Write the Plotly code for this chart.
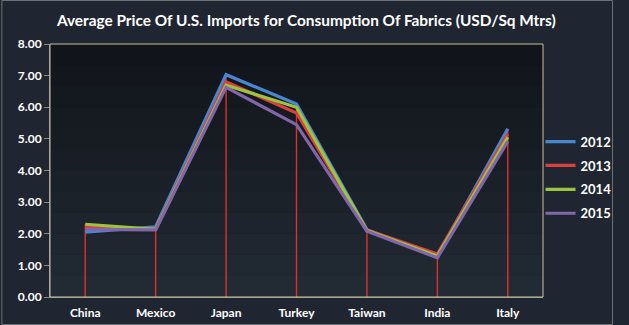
import plotly.graph_objects as go

countries = ["China", "Mexico", "Japan", "Turkey", "Taiwan", "India", "Italy"]
years = ["2012", "2013", "2014", "2015"]
price_2012 = [2.05, 2.22, 7.03, 6.10, 2.13, 1.30, 5.32]
price_2013 = [2.20, 2.15, 6.80, 5.82, 2.12, 1.36, 5.15]
price_2014 = [2.30, 2.14, 6.70, 6.00, 2.10, 1.30, 5.05]
price_2015 = [2.14, 2.12, 6.63, 5.45, 2.08, 1.24, 4.92]
y_ticks = [0, 1, 2, 3, 4, 5, 6, 7, 8]

series = [price_2012, price_2013, price_2014, price_2015]
colors = ["#4a86d0", "#d8413e", "#9cc53f", "#8366aa"]

W, H = 629, 325
ML, MR, MT, MB = 50, 72, 44, 28
PW, PH = W - ML - MR, H - MT - MB

fig = go.Figure()

# drop lines from the highest point of each category down to the axis
drop_x, drop_y = [], []
for i, c in enumerate(countries):
    top = max(s[i] for s in series)
    drop_x += [c, c, None]
    drop_y += [0, top, None]
fig.add_trace(go.Scatter(x=drop_x, y=drop_y, mode="lines",
                         line=dict(color="#e0302c", width=1.4),
                         showlegend=False, hoverinfo="skip"))

for yr, vals, col in zip(years, series, colors):
    fig.add_trace(go.Scatter(x=countries, y=vals, name=yr, mode="lines",
                             legendgroup=yr,
                             line=dict(color=col, width=3.2)))

# subtle vertical shading inside the plot area
bands = []
n = 12
for k in range(n):
    t = k / n
    r = int(16 + (34 - 16) * (1 - t))
    g = int(19 + (42 - 19) * (1 - t))
    b = int(24 + (52 - 24) * (1 - t))
    bands.append(dict(type="rect", xref="paper", yref="paper",
                      x0=0, x1=1, y0=t, y1=t + 1 / n + 0.001,
                      fillcolor=f"rgb({r},{g},{b})", line=dict(width=0),
                      layer="below"))

frame = dict(type="rect", xref="paper", yref="paper",
             x0=(-ML + 0.5) / PW, x1=(W - ML - 0.5) / PW,
             y0=(-MB + 0.5) / PH, y1=(PH + MT - 0.5) / PH,
             line=dict(color="#6e7276", width=1), layer="above")
plot_border = dict(type="rect", xref="paper", yref="paper", x0=0, x1=1, y0=0, y1=1,
                   line=dict(color="#c9c39a", width=1), layer="above")

fig.update_layout(
    width=W, height=H,
    margin=dict(l=ML, r=MR, t=MT, b=MB),
    paper_bgcolor="#1f2631",
    plot_bgcolor="#14181f",
    title=dict(text="Average Price Of U.S. Imports for Consumption Of Fabrics (USD/Sq Mtrs)",
               x=0.487, xanchor="center", y=0.938, yanchor="middle",
               font=dict(family="Lato", size=15.4, color="#ffffff", weight="bold")),
    font=dict(family="Lato", color="#e8e8e8"),
    legend=dict(x=0.995, xanchor="left", y=0.472, yanchor="middle",
                bgcolor="rgba(0,0,0,0)", tracegroupgap=4,
                traceorder="grouped", itemwidth=30,
                font=dict(family="Lato", size=13, color="#ffffff", weight="bold")),
    shapes=bands + [plot_border, frame],
)
fig.update_xaxes(showgrid=False, showline=True, linecolor="#8a8a8a", linewidth=1,
                 ticks="", ticklabelstandoff=5, automargin=False,
                 tickfont=dict(family="Lato", size=12, color="#ffffff", weight="bold"),
                 range=[-0.5, 6.5])
fig.update_yaxes(range=[0, 8], tickvals=y_ticks, tickformat=".2f", showgrid=False,
                 showline=True, linecolor="#8a8a8a", linewidth=1, automargin=False,
                 ticks="outside", ticklen=5, tickcolor="#8a8a8a", zeroline=False,
                 tickfont=dict(family="Lato", size=12, color="#ffffff", weight="bold"))

fig.write_html("out.html")
